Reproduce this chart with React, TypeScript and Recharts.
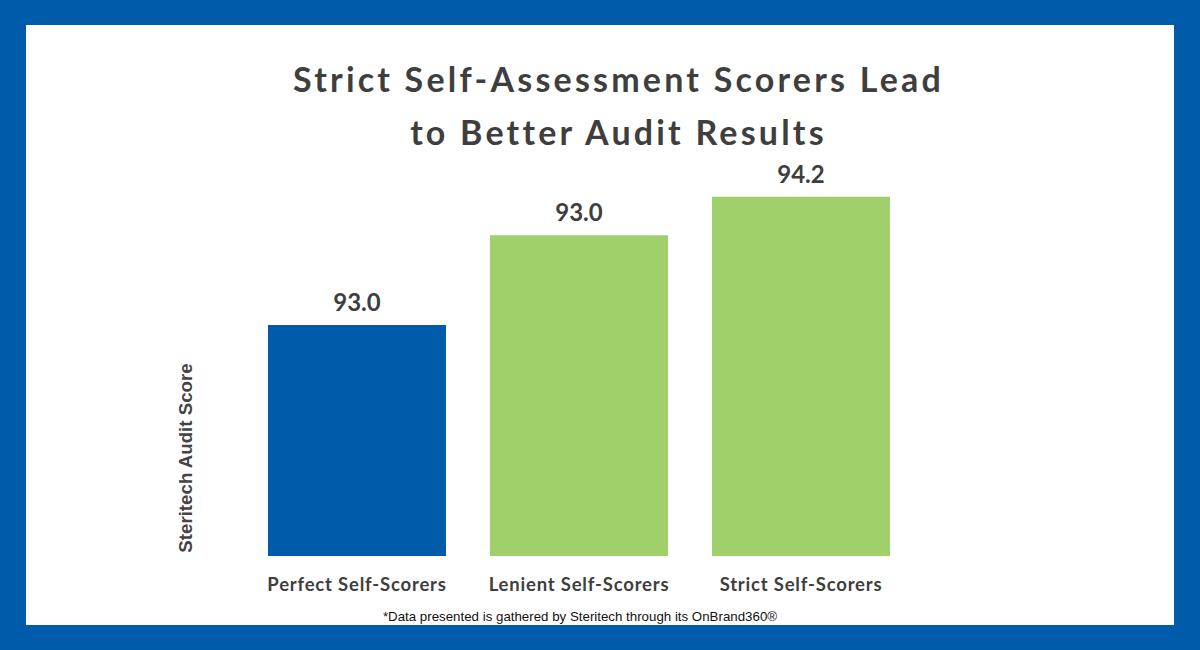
import React from 'react';
import { BarChart, Bar, XAxis, YAxis, Cell, LabelList } from 'recharts';

// bar heights as drawn; printed labels as shown on the chart
const categories = ['Perfect Self-Scorers', 'Lenient Self-Scorers', 'Strict Self-Scorers'];
const scores = [90.2, 93.0, 94.2];
const scoreLabels = ['93.0', '93.0', '94.2'];
const barColors = ['#005BAA', '#A0D06B', '#A0D06B'];

const data = categories.map((name, i) => ({ name, score: scores[i], label: scoreLabels[i] }));

const BLUE = '#005BAA';
const TEXT = '#3E3E3E';

const CategoryTick = (props: any) => {
  const { x, y, payload } = props;
  return (
    <text
      x={x}
      y={y + 27}
      textAnchor="middle"
      fill={TEXT}
      fontFamily="Lato, sans-serif"
      fontWeight={700}
      fontSize={18.5}
      letterSpacing={0.8}
    >
      {payload.value}
    </text>
  );
};

const ValueLabel = (props: any) => {
  const { x, y, width, index } = props;
  return (
    <text
      x={x + width / 2}
      y={y - 14}
      textAnchor="middle"
      fill={TEXT}
      fontFamily="Lato, sans-serif"
      fontWeight={700}
      fontSize={24}
    >
      {scoreLabels[index]}
    </text>
  );
};

export default function App() {
  return (
    <div style={{ position: 'absolute', left: 0, top: 0, width: 1200, height: 650, background: BLUE }}>
      <div style={{ position: 'absolute', left: 26, top: 25, width: 1148, height: 600, background: '#fff' }} />
      <div
        style={{
          position: 'absolute',
          left: 0,
          width: 1237,
          top: 52,
          textAlign: 'center',
          fontFamily: 'Lato, sans-serif',
          fontWeight: 700,
          fontSize: 34,
          letterSpacing: 3.2,
          lineHeight: '53px',
          color: TEXT,
        }}
      >
        Strict Self-Assessment Scorers Lead
        <br />
        to Better Audit Results
      </div>
      <div
        style={{
          position: 'absolute',
          left: 186,
          top: 458,
          transform: 'translate(-50%, -50%) rotate(-90deg)',
          whiteSpace: 'nowrap',
          fontFamily: '"Liberation Sans", Arial, sans-serif',
          fontWeight: 700,
          fontSize: 18.7,
          color: '#444',
        }}
      >
        Steritech Audit Score
      </div>
      <div
        style={{
          position: 'absolute',
          left: 0,
          width: 1160,
          top: 609,
          textAlign: 'center',
          fontFamily: '"Liberation Sans", Arial, sans-serif',
          fontSize: 13.3,
          color: '#111',
        }}
      >
        *Data presented is gathered by Steritech through its OnBrand360®
      </div>
      <div style={{ position: 'absolute', left: 0, top: 0 }}>
        <BarChart
          width={1200}
          height={650}
          data={data}
          margin={{ top: 139, right: 288, bottom: 34, left: 246 }}
          barCategoryGap={44}
        >
          <XAxis
            dataKey="name"
            axisLine={false}
            tickLine={false}
            tick={<CategoryTick />}
            height={60}
            interval={0}
          />
          <YAxis hide domain={[83, 96]} />
          <Bar dataKey="score" barSize={178} isAnimationActive={false}>
            {data.map((d, i) => (
              <Cell key={d.name} fill={barColors[i]} />
            ))}
            <LabelList dataKey="label" content={<ValueLabel />} />
          </Bar>
        </BarChart>
      </div>
    </div>
  );
}
